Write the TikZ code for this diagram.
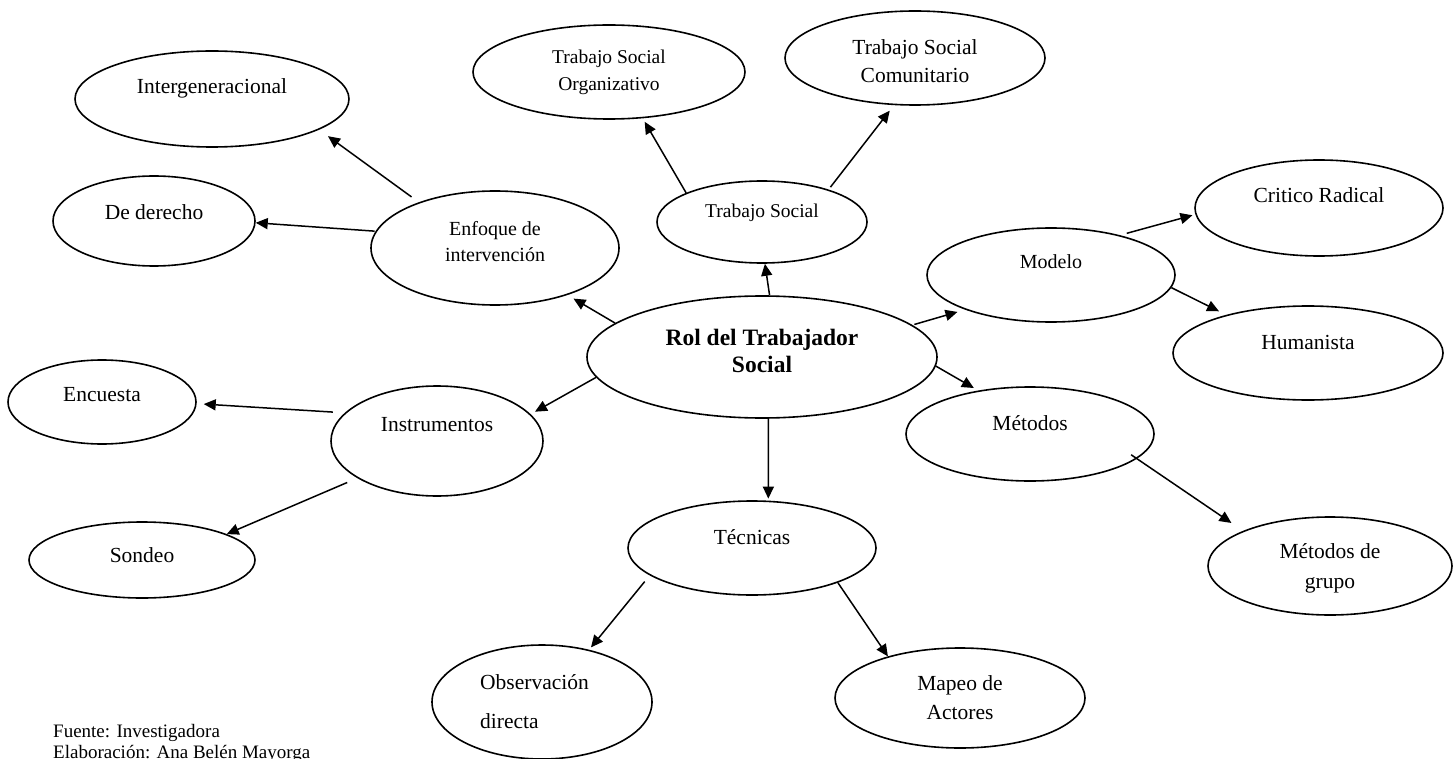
\documentclass[tikz,border=0pt]{standalone}
\usepackage{fontspec}
\setmainfont{Liberation Serif}
\usetikzlibrary{shapes.geometric, arrows.meta}
\begin{document}
\begin{tikzpicture}[x=1pt,y=-1pt,
  oval/.style 2 args={ellipse, draw, line width=1.6pt, minimum width=#1, minimum height=#2, inner sep=0pt},
  lbl/.style={inner sep=0pt, align=center, font=\fontsize{21.5}{28}\selectfont},
  arr/.style={-{Triangle[length=12pt,width=11pt]}, line width=1.5pt}]
\useasboundingbox (0,0) rectangle (1455,759);
\clip (0,0) rectangle (1455,759);
\fill[white] (0,0) rectangle (1455,759);

\node[oval={274pt}{96pt}, label={[lbl,yshift=11pt]center:Intergeneracional}] (inter) at (212,99) {};
\node[oval={272pt}{94pt}, label={[lbl,font=\fontsize{19.5}{27}\selectfont]center:Trabajo Social\\Organizativo}] (org) at (609,72) {};
\node[oval={260pt}{94pt}, label={[lbl,yshift=-3pt]center:Trabajo Social\\Comunitario}] (com) at (915,58) {};
\node[oval={202pt}{90pt}, label={[lbl,yshift=9pt]center:De derecho}] (der) at (154,221) {};
\node[oval={248pt}{114pt}, label={[lbl,yshift=6pt,font=\fontsize{20}{26}\selectfont]center:Enfoque de\\intervención}] (enf) at (495,248) {};
\node[oval={210pt}{82pt}, label={[lbl,yshift=9pt,font=\fontsize{19.5}{26}\selectfont]center:Trabajo Social}] (ts) at (762,222) {};
\node[oval={248pt}{96pt}, label={[lbl,yshift=13pt]center:Critico Radical}] (crit) at (1319,208) {};
\node[oval={248pt}{94pt}, label={[lbl,yshift=13pt,font=\fontsize{20}{26}\selectfont]center:Modelo}] (mod) at (1051,275) {};
\node[oval={270pt}{94pt}, label={[lbl,yshift=11pt]center:Humanista}] (hum) at (1308,353) {};
\node[oval={350pt}{122pt}, label={[lbl,yshift=6.5pt,font=\fontsize{23.5}{27}\selectfont\bfseries]center:Rol del Trabajador\\Social}] (rol) at (762,357) {};
\node[oval={188pt}{84pt}, label={[lbl,yshift=7pt]center:Encuesta}] (enc) at (102,402) {};
\node[oval={212pt}{110pt}, label={[lbl,yshift=16pt]center:Instrumentos}] (ins) at (437,441) {};
\node[oval={248pt}{94pt}, label={[lbl,yshift=11pt]center:Métodos}] (met) at (1030,434) {};
\node[oval={226pt}{76pt}, label={[lbl,yshift=5pt]center:Sondeo}] (son) at (142,560) {};
\node[oval={248pt}{94pt}, label={[lbl,yshift=11pt]center:Técnicas}] (tec) at (752,548) {};
\node[oval={244pt}{98pt}, label={[lbl,yshift=-2pt,font=\fontsize{21.5}{30}\selectfont]center:Métodos de\\grupo}] (grp) at (1330,566) {};
\node[oval={220pt}{114pt}, label={[lbl,xshift=-7.5pt,align=left,font=\fontsize{21.5}{39}\selectfont]center:Observación\\directa}] (obs) at (542,702) {};
\node[oval={250pt}{100pt}, label={[lbl,font=\fontsize{21.5}{29}\selectfont]center:Mapeo de\\Actores}] (map) at (960,698) {};

\node[anchor=north west, inner sep=0pt, align=left, font=\fontsize{19}{21}\selectfont] (src) at (53,724) {Fuente: Investigadora\\Elaboración: Ana Belén Mayorga};

\draw[arr, shorten <=9pt, shorten >=11pt] (enf.149) -- (inter.-16);
\draw[arr, shorten <=1pt] (enf.172) -- (der.-1);
\draw[arr, shorten >=7pt] (rol.167) -- (enf.-33);
\draw[arr, shorten >=4pt] (ts.159) -- (org.-54);
\draw[arr, shorten <=3pt, shorten >=7pt] (ts.26) -- (com.-114);
\draw[arr] (rol.83) -- (ts.-86);
\draw[arr, shorten <=2pt, shorten >=8pt] (rol.12) -- (mod.-158);
\draw[arr, shorten <=7pt, shorten >=3pt] (mod.30) -- (crit.-177);
\draw[arr, shorten >=8pt] (mod.-6) -- (hum.155);
\draw[arr, shorten >=5pt] (rol.-3) -- (met.140);
\draw[arr, shorten <=-7pt, shorten >=14pt] (met.-13) -- (grp.158);
\draw[arr, shorten >=2pt] (rol.-84) -- (tec.71);
\draw[arr, shorten <=8pt, shorten >=3pt] (tec.-165) -- (obs.48);
\draw[arr] (tec.-22) -- (map.150);
\draw[arr, shorten >=5pt] (rol.-173) -- (ins.16);
\draw[arr, shorten <=12pt, shorten >=7pt] (ins.163) -- (enc.-1);
\draw[arr, shorten <=11pt] (ins.-155) -- (son.17);
\end{tikzpicture}
\end{document}
